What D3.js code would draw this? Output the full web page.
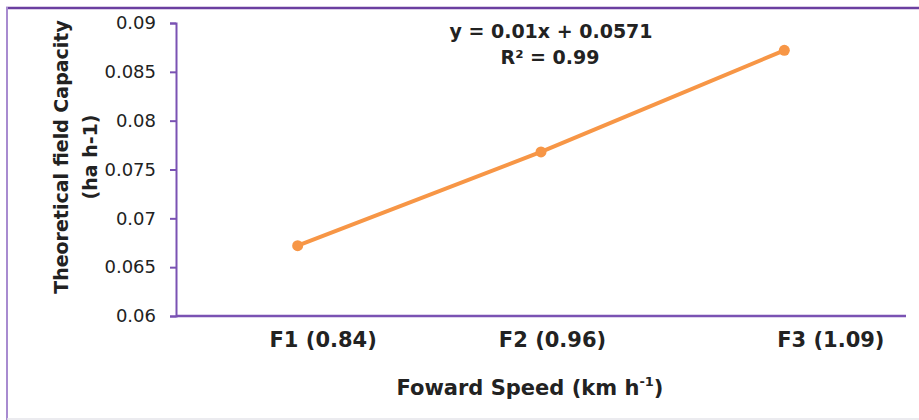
<!DOCTYPE html>
<html>
<head>
<meta charset="utf-8">
<script src="https://cdn.jsdelivr.net/npm/d3@7"></script>
<style>
  body { margin: 0; background: #fff; }
  #chart { width: 919px; height: 420px; }
  .tick-y text { font-family: 'DejaVu Sans', sans-serif; font-size: 18px; fill: #222; }
  .tick-x text { font-family: 'DejaVu Sans', sans-serif; font-size: 21px; font-weight: bold; fill: #222; }
  .title { font-family: 'DejaVu Sans', sans-serif; font-weight: bold; fill: #222; }
</style>
</head>
<body>
<div id="chart"></div>
<script>
// Data
const categories = ['F1 (0.84)', 'F2 (0.96)', 'F3 (1.09)'];
const capacity = [0.0672, 0.0768, 0.0872];
const yTicks = [0.06, 0.065, 0.07, 0.075, 0.08, 0.085, 0.09];
const equation = ['y = 0.01x + 0.0571', 'R² = 0.99'];

const width = 919, height = 420;
const plot = { left: 176, right: 906, top: 23, bottom: 316 };

const svg = d3.select('#chart')
  .append('svg')
  .attr('width', width)
  .attr('height', height);

// frame
svg.append('line').attr('x1', 6).attr('x2', width).attr('y1', 8).attr('y2', 8)
  .attr('stroke', '#6b3fa0').attr('stroke-width', 2.5);
svg.append('line').attr('x1', 7).attr('x2', 7).attr('y1', 7).attr('y2', height)
  .attr('stroke', '#a88bd0').attr('stroke-width', 2);
svg.append('line').attr('x1', 7).attr('x2', width).attr('y1', 419).attr('y2', 419)
  .attr('stroke', '#e4e4ea').attr('stroke-width', 1.5);

// Scales
const x = d3.scalePoint()
  .domain(categories)
  .range([plot.left, plot.right])
  .padding(0.5);

const y = d3.scaleLinear()
  .domain([0.06, 0.09])
  .range([plot.bottom, plot.top]);

// Y axis
const yAxis = svg.append('g')
  .attr('class', 'tick-y')
  .attr('transform', `translate(${plot.left},0)`)
  .call(d3.axisLeft(y).tickValues(yTicks).tickFormat(d => String(+d.toFixed(3))).tickSize(6).tickPadding(14));
yAxis.select('.domain').attr('stroke', '#7a52b3').attr('stroke-width', 2);
yAxis.selectAll('.tick line').attr('stroke', '#7a52b3').attr('stroke-width', 2);

// X axis
const labelShift = [25, 11, 46];
const xAxis = svg.append('g')
  .attr('class', 'tick-x')
  .attr('transform', `translate(0,${plot.bottom})`)
  .call(d3.axisBottom(x).tickSize(0).tickPadding(16));
xAxis.select('.domain').attr('stroke', '#7a52b3').attr('stroke-width', 2.5)
  .attr('d', `M${plot.left},0H${plot.right}`);
xAxis.selectAll('.tick text').attr('dx', (d, i) => labelShift[i]);

// Line
const pts = categories.map((c, i) => ({ c, v: capacity[i] }));
const line = d3.line()
  .x(d => x(d.c))
  .y(d => y(d.v));

svg.append('path')
  .datum(pts)
  .attr('d', line)
  .attr('fill', 'none')
  .attr('stroke', '#f79646')
  .attr('stroke-width', 4);

svg.selectAll('circle.pt')
  .data(pts)
  .enter().append('circle')
  .attr('class', 'pt')
  .attr('cx', d => x(d.c))
  .attr('cy', d => y(d.v))
  .attr('r', 5.5)
  .attr('fill', '#f79646');

// Trendline equation
svg.append('text').attr('class', 'title')
  .attr('x', 551).attr('y', 38)
  .attr('text-anchor', 'middle')
  .style('font-size', '19px')
  .text(equation[0]);
svg.append('text').attr('class', 'title')
  .attr('x', 550).attr('y', 64)
  .attr('text-anchor', 'middle')
  .style('font-size', '19px')
  .text(equation[1]);

// X axis title
const xt = svg.append('text').attr('class', 'title')
  .attr('x', 530).attr('y', 395)
  .attr('text-anchor', 'middle')
  .style('font-size', '21px');
xt.append('tspan').text('Foward Speed (km h');
xt.append('tspan').attr('dy', -9).style('font-size', '13px').text('-1');
xt.append('tspan').attr('dy', 9).text(')');

// Y axis title
const yt = svg.append('text').attr('class', 'title')
  .attr('transform', 'translate(0,157) rotate(-90)')
  .attr('text-anchor', 'middle')
  .style('font-size', '19px');
yt.append('tspan').attr('x', 0).attr('y', 68).text('Theoretical field Capacity');
yt.append('tspan').attr('x', 0).attr('y', 97).text('(ha h-1)');
</script>
</body>
</html>
